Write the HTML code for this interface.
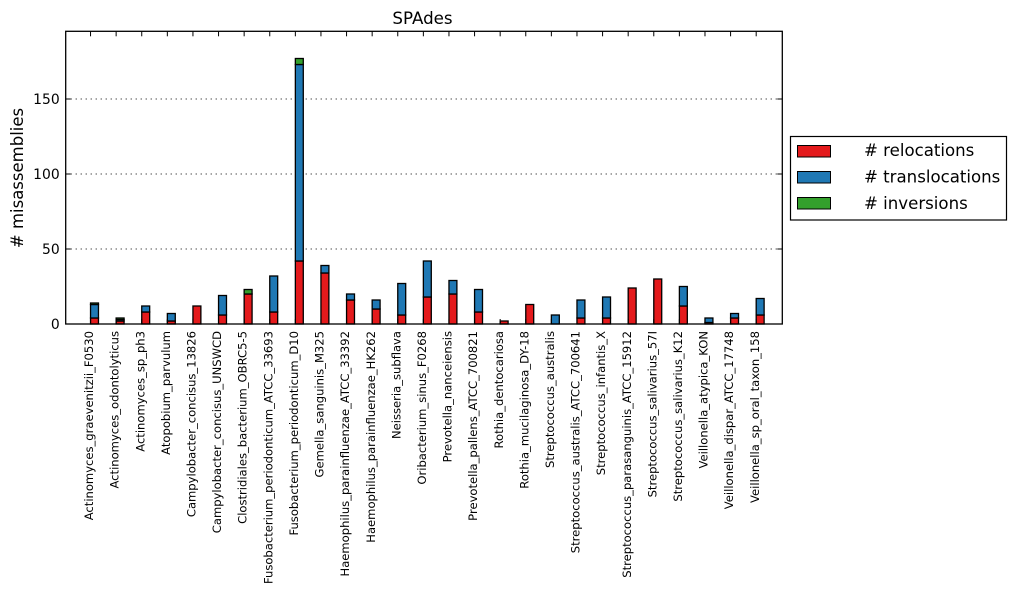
<!DOCTYPE html>
<html lang="en">
<head>
<meta charset="utf-8">
<title>SPAdes</title>
<style>
html,body{margin:0;padding:0;background:#fff;}
svg{display:block;font-family:"DejaVu Sans","Liberation Sans",sans-serif;}
</style>
</head>
<body>
<svg id="chart" xmlns="http://www.w3.org/2000/svg" width="1016" height="593" viewBox="0 0 1016 593"></svg>
<script>
const categories = ["Actinomyces_graevenitzii_F0530","Actinomyces_odontolyticus","Actinomyces_sp_ph3","Atopobium_parvulum","Campylobacter_concisus_13826","Campylobacter_concisus_UNSWCD","Clostridiales_bacterium_OBRC5-5","Fusobacterium_periodonticum_ATCC_33693","Fusobacterium_periodonticum_D10","Gemella_sanguinis_M325","Haemophilus_parainfluenzae_ATCC_33392","Haemophilus_parainfluenzae_HK262","Neisseria_subflava","Oribacterium_sinus_F0268","Prevotella_nanceiensis","Prevotella_pallens_ATCC_700821","Rothia_dentocariosa","Rothia_mucilaginosa_DY-18","Streptococcus_australis","Streptococcus_australis_ATCC_700641","Streptococcus_infantis_X","Streptococcus_parasanguinis_ATCC_15912","Streptococcus_salivarius_57I","Streptococcus_salivarius_K12","Veillonella_atypica_KON","Veillonella_dispar_ATCC_17748","Veillonella_sp_oral_taxon_158"];
const relocations = [4,2,8,2,12,6,20,8,42,34,16,10,6,18,20,8,2,13,0,4,4,24,30,12,1,4,6];
const translocations = [9,1,4,5,0,13,0,24,131,5,4,6,21,24,9,15,0,0,6,12,14,0,0,13,3,3,11];
const inversions = [1,1,0,0,0,0,3,0,4,0,0,0,0,0,0,0,0,0,0,0,0,0,0,0,0,0,0];
const yTickValues = [0,50,100,150];
const seriesNames = ["# relocations","# translocations","# inversions"];
const seriesColors = ["#e41a1c","#1f78b4","#33a02c"];

const NS = "http://www.w3.org/2000/svg";
const svg = document.getElementById("chart");
const plot = {left:65.7,right:782.3,top:31.3,bottom:324};
const xDomain = [-0.97,27.02];
const yDomain = [0,195.13];
const barWidth = 0.31;

function xScale(v){
  return plot.left + (v - xDomain[0]) / (xDomain[1] - xDomain[0]) * (plot.right - plot.left);
}
function yScale(v){
  return plot.bottom - (v - yDomain[0]) / (yDomain[1] - yDomain[0]) * (plot.bottom - plot.top);
}
function make(tag, attrs, text){
  const el = document.createElementNS(NS, tag);
  for (const k in attrs) el.setAttribute(k, attrs[k]);
  if (text !== undefined) el.textContent = text;
  svg.appendChild(el);
  return el;
}

// horizontal grid lines
yTickValues.forEach(function(v){
  if (v === 0) return;
  const grid = make("line",{x1:plot.left,x2:plot.right,y1:yScale(v),y2:yScale(v),stroke:"#000","stroke-width":1,"stroke-dasharray":"1 4"});
  
  
});

// stacked bars
const stacks = [relocations, translocations, inversions];
categories.forEach(function(name,i){
  let base = 0;
  stacks.forEach(function(values,s){
    const v = values[i];
    if (v > 0) {
      const bar = make("rect",{x:xScale(i),y:yScale(base+v),width:xScale(barWidth)-xScale(0),height:yScale(base)-yScale(base+v),fill:seriesColors[s],stroke:"#000","stroke-width":1.3});
      
      
    }
    base += v;
  });
});

// axes frame
const frame = make("rect",{x:plot.left,y:plot.top,width:plot.right-plot.left,height:plot.bottom-plot.top,fill:"none",stroke:"#000","stroke-width":1.3});



// x ticks and labels
categories.forEach(function(name,i){
  const x = xScale(i);
  const tb = make("line",{x1:x,x2:x,y1:plot.bottom,y2:plot.bottom-5,stroke:"#000","stroke-width":1});
  
  
  const tt = make("line",{x1:x,x2:x,y1:plot.top,y2:plot.top+5,stroke:"#000","stroke-width":1});
  
  
  const label = make("text",{transform:"translate("+(x+2.6)+",331) rotate(-90)","text-anchor":"end","font-size":"11.57px",fill:"#000"},name);
  
  
});

// y ticks and labels
yTickValues.forEach(function(v){
  const y = yScale(v);
  const tl = make("line",{x1:plot.left,x2:plot.left+5,y1:y,y2:y,stroke:"#000","stroke-width":1});
  
  
  const tr = make("line",{x1:plot.right,x2:plot.right-5,y1:y,y2:y,stroke:"#000","stroke-width":1});
  
  
  const label = make("text",{x:plot.left-6,y:y+5,"text-anchor":"end","font-size":"13.9px",fill:"#000"},String(v));
  
  
});

// titles
const title = make("text",{x:422.5,y:24,"text-anchor":"middle","font-size":"16.67px",fill:"#000"},"SPAdes");


const yTitle = make("text",{transform:"translate(23,178) rotate(-90)","text-anchor":"middle","font-size":"16.5px",fill:"#000"},"# misassemblies");



// legend
const legendBox = make("rect",{x:790.5,y:136.5,width:216,height:83.5,fill:"#fff",stroke:"#000","stroke-width":1.2});


seriesNames.forEach(function(name,i){
  const rowY = 145.5 + i*26;
  const swatch = make("rect",{x:797.5,y:rowY,width:33,height:11.5,fill:seriesColors[i],stroke:"#000","stroke-width":1});
  
  
  const label = make("text",{x:864,y:rowY+10.5+i*0.4,"font-size":"16.6px",fill:"#000"},name);
  
  
});
</script>
</body>
</html>
